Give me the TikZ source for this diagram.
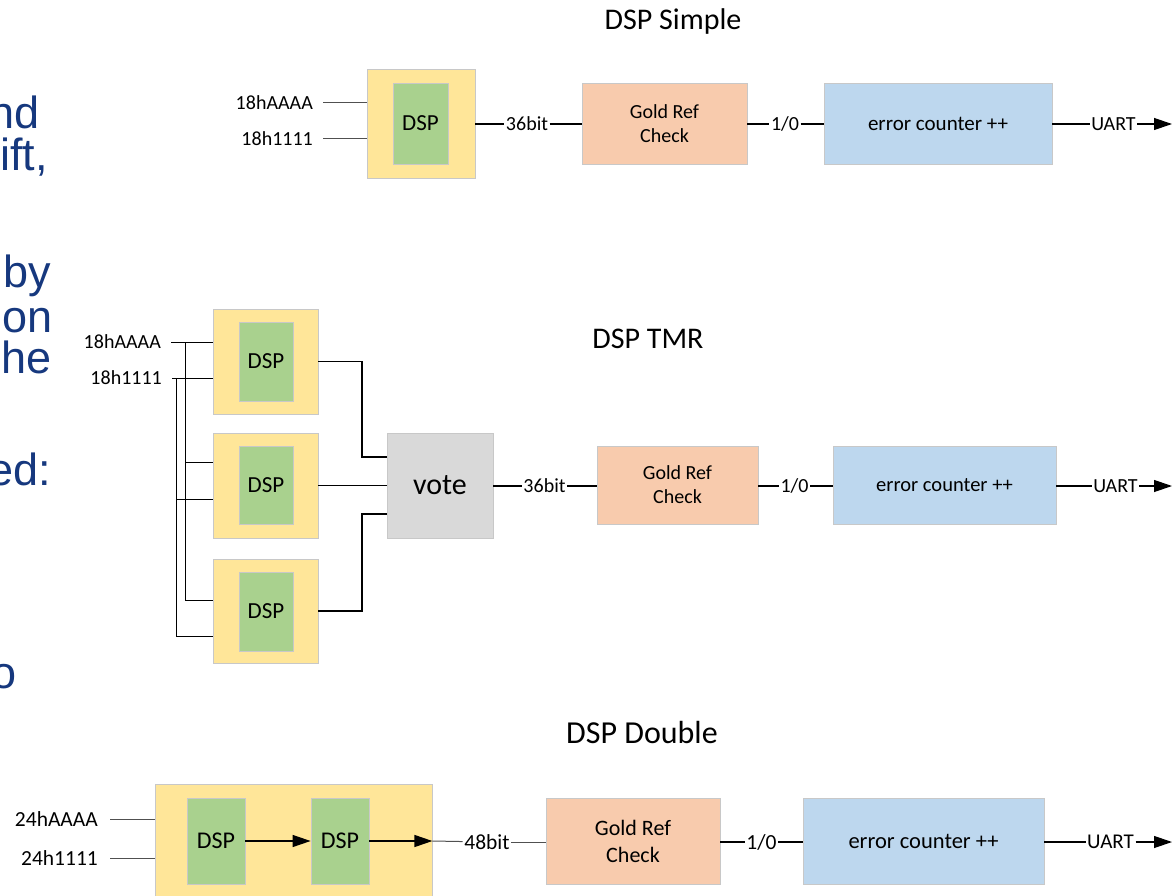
\documentclass[tikz,border=0pt]{standalone}
\usepackage{fontspec}
\setmainfont{Carlito}
\newfontfamily\slidefont{Liberation Sans}
\usetikzlibrary{arrows.meta,calc}

\definecolor{dspyellow}{RGB}{255,230,153}
\definecolor{dspgreen}{RGB}{169,209,142}
\definecolor{refpeach}{RGB}{248,203,173}
\definecolor{cntblue}{RGB}{189,215,238}
\definecolor{votegray}{RGB}{217,217,217}
\definecolor{boxline}{RGB}{200,200,200}
\definecolor{slideblue}{RGB}{22,56,126}
\definecolor{wiregray}{RGB}{80,80,80}

\newcommand\fs[2]{\fontsize{#1}{#2}\selectfont}

\tikzset{
  x=1pt, y=-1pt,
  block/.style={draw=boxline, line width=0.8pt, inner sep=0pt, align=center,
    minimum width=#1},
  outerbox/.style={block=#1, fill=dspyellow},
  dspbox/.style={block=#1, fill=dspgreen},
  refbox/.style={block=#1, fill=refpeach},
  cntbox/.style={block=#1, fill=cntblue},
  votebox/.style={block=#1, fill=votegray},
  tag/.style={inner xsep=1.5pt, inner ysep=0pt, font=\fs{20}{24}},
  intag/.style={anchor=east, inner xsep=10pt, inner ysep=0pt, font=\fs{20}{24}},
  title/.style={anchor=base, inner sep=0pt, font=\fs{30}{36}},
  wire/.style={line width=1.2pt, black},
  thinwire/.style={line width=1pt, wiregray},
  flow/.style={line width=1.2pt, black, -{Triangle[length=18pt,width=12pt]}},
  slide/.style={anchor=base east, inner sep=0pt, text=slideblue,
    font=\slidefont\fs{45}{45}},
}

\begin{document}
\begin{tikzpicture}
\useasboundingbox (0,0) rectangle (1175,896);
\clip (0,0) rectangle (1175,896);

% ---- bullet text running in from the left ----
\node[slide] (p1) at (40,129) {nd};
\node[slide] (p2) at (48,171) {ift,};
\node[slide] (p3) at (51,287) {by};
\node[slide] (p4) at (53,332) {on};
\node[slide] (p5) at (52,373) {he};
\node[slide] (p6) at (51,485) {ed:};
\node[slide] (p7) at (17,688) {o};

% ================= DSP Simple =================
\node[title] (sT) at (673,30) {DSP Simple};
\node[outerbox=108pt, minimum height=109pt] (sOut) at (421,123.5) {};
\node[dspbox=55pt, minimum height=81pt, font=\fs{23}{27}] (sDsp) at (420.5,123.5) {DSP};
\node[intag] (sA) at (323,103) {18hAAAA};
\node[intag] (sB) at (323,139) {18h1111};
\draw[thinwire] (sA.east) -- (sA.east -| sOut.west);
\draw[thinwire] (sB.east) -- (sB.east -| sOut.west);

\node[tag] (s36) at (527,124) {36bit};
\node[refbox=165pt, minimum height=81pt, font=\fs{20}{24}] (sGold) at (664.5,123.5) {Gold Ref\\Check};
\node[tag] (s10) at (785,124) {1/0};
\node[cntbox=228pt, minimum height=81pt, font=\fs{21}{25}] (sErr) at (938,123.5) {error counter ++};
\node[tag] (sU) at (1113.5,124) {UART};
\coordinate (sEnd) at (1172,124);

\draw[wire] (sOut.east |- s36) -- (s36);
\draw[wire] (s36) -- (s36 -| sGold.west);
\draw[wire] (sGold.east |- s10) -- (s10);
\draw[wire] (s10) -- (s10 -| sErr.west);
\draw[wire] (sErr.east |- sU) -- (sU);
\draw[flow] (sU) -- (sEnd);

% ================= DSP TMR =================
\node[title] (tT) at (648,348) {DSP TMR};
\node[outerbox=105pt, minimum height=105pt] (t1) at (265.5,361.5) {};
\node[outerbox=105pt, minimum height=105pt] (t2) at (265.5,485.5) {};
\node[outerbox=105pt, minimum height=104pt] (t3) at (265.5,611) {};
\node[dspbox=54pt, minimum height=79pt, font=\fs{23}{27}] (t1d) at (266,361.5) {DSP};
\node[dspbox=54pt, minimum height=78pt, font=\fs{23}{27}] (t2d) at (266,485) {DSP};
\node[dspbox=54pt, minimum height=79pt, font=\fs{23}{27}] (t3d) at (266,611.5) {DSP};

\node[intag] (tA) at (171,342) {18hAAAA};
\node[intag] (tB) at (172,378) {18h1111};
\coordinate (jA) at (185,342);
\coordinate (jB) at (176,378);
\coordinate (a2) at (213,462);
\coordinate (a3) at (213,600);
\coordinate (b2) at (213,499);
\coordinate (b3) at (213,636);
\draw[wire, line width=1pt] (tA.east) -- (tA.east -| t1.west);
\draw[wire, line width=1pt] (tB.east) -- (tB.east -| t1.west);
\draw[wire, line width=1pt] (jA) |- (a2);
\draw[wire, line width=1pt] (jA) |- (a3);
\draw[wire, line width=1pt] (jB) |- (b2);
\draw[wire, line width=1pt] (jB) |- (b3);

\node[votebox=106pt, minimum height=105pt, font=\fs{30}{36}] (vote) at (440,485.5) {vote};
\coordinate (knee) at (362,0);
\coordinate (v1) at (387,457);
\coordinate (v3) at (387,514);
\draw[wire] (t1.east) -- (t1.east -| knee) |- (v1);
\draw[wire] (t2.east) -- (t2.east -| vote.west);
\draw[wire] (t3.east) -- (t3.east -| knee) |- (v3);

\node[tag] (t36) at (544.5,486) {36bit};
\node[refbox=161pt, minimum height=78pt, font=\fs{20}{24}] (tGold) at (677.5,485) {Gold Ref\\Check};
\node[tag] (t10) at (794.5,486) {1/0};
\node[cntbox=223pt, minimum height=78pt, font=\fs{20.5}{25}] (tErr) at (944.5,485) {error counter ++};
\node[tag] (tU) at (1115.5,486) {UART};
\coordinate (tEnd) at (1172,486);

\draw[wire] (vote.east |- t36) -- (t36);
\draw[wire] (t36) -- (t36 -| tGold.west);
\draw[wire] (tGold.east |- t10) -- (t10);
\draw[wire] (t10) -- (t10 -| tErr.west);
\draw[wire] (tErr.east |- tU) -- (tU);
\draw[flow] (tU) -- (tEnd);

% ================= DSP Double =================
\node[title, font=\fs{32}{38}] (dT) at (642,743) {DSP Double};
\node[outerbox=277pt, minimum height=114pt] (dOut) at (293.5,841) {};
\node[dspbox=58pt, minimum height=86pt, font=\fs{24}{28}] (d1) at (216,841) {DSP};
\node[dspbox=58pt, minimum height=86pt, font=\fs{24}{28}] (d2) at (340,841) {DSP};
\node[intag, font=\fs{21.5}{26}, inner xsep=12pt] (dA) at (110,819) {24hAAAA};
\node[intag, font=\fs{21.5}{26}, inner xsep=12pt] (dB) at (110,858) {24h1111};
\draw[thinwire] (dA.east) -- (dA.east -| dOut.west);
\draw[thinwire] (dB.east) -- (dB.east -| dOut.west);

\draw[flow] (d1) -- (d2);
\draw[flow] (d2.east) -- (d2 -| dOut.east);

\node[tag, font=\fs{21.5}{26}] (d48) at (487,842) {48bit};
\node[refbox=174pt, minimum height=86pt, font=\fs{22}{27}] (dGold) at (633,841) {Gold Ref\\Check};
\node[tag, font=\fs{21.5}{26}] (d10) at (761.5,842) {1/0};
\node[cntbox=241pt, minimum height=86pt, font=\fs{22.5}{27}] (dErr) at (923.5,841) {error counter ++};
\node[tag, font=\fs{21}{25}] (dU) at (1110.5,842) {UART};
\coordinate (dEnd) at (1172,842);

\draw[thinwire] (d2 -| dOut.east) -- (d48);
\draw[thinwire] (d48) -- (d48 -| dGold.west);
\draw[wire] (dGold.east |- d10) -- (d10);
\draw[wire] (d10) -- (d10 -| dErr.west);
\draw[wire] (dErr.east |- dU) -- (dU);
\draw[flow] (dU) -- (dEnd);
\end{tikzpicture}
\end{document}
